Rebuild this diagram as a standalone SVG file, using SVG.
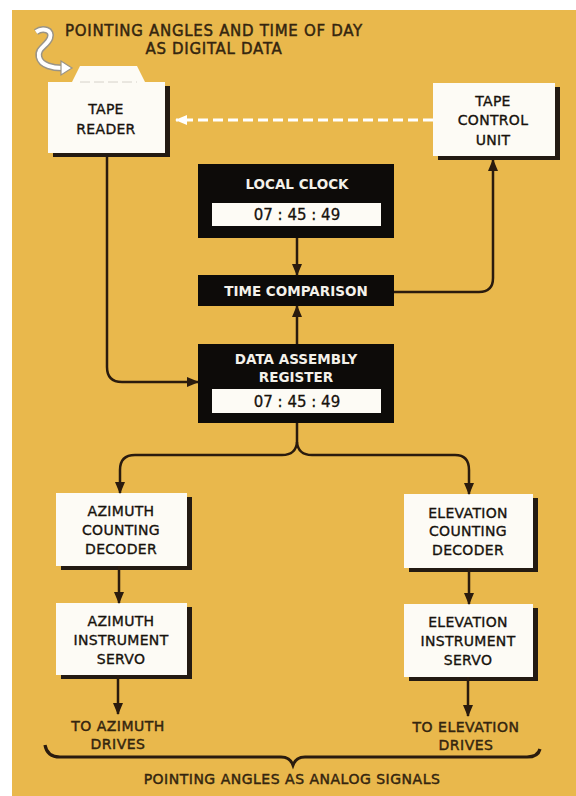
<svg xmlns="http://www.w3.org/2000/svg" width="576" height="796" viewBox="0 0 576 796">
<defs>
<style>
.bg{fill:#E9B84C}
.wbox{fill:#FDFBF5}
.shadow{fill:#231A12}
.bbox{fill:#0D0B09}
.t{font-family:"DejaVu Sans","Liberation Sans",sans-serif;font-size:14px;fill:#17120C;stroke:#17120C;stroke-width:0.35px;text-anchor:middle;letter-spacing:0.3px}
.tw{font-family:"DejaVu Sans","Liberation Sans",sans-serif;font-size:13.5px;font-weight:bold;fill:#F4F1EA;text-anchor:middle}
.num{font-family:"DejaVu Sans","Liberation Sans",sans-serif;font-size:15px;fill:#17120C;stroke:#17120C;stroke-width:0.3px;text-anchor:middle}
.lab{font-family:"DejaVu Sans","Liberation Sans",sans-serif;font-size:14px;fill:#34250F;stroke:#34250F;stroke-width:0.45px;text-anchor:middle;letter-spacing:0.5px}
.ln{fill:none;stroke:#2A1B0E;stroke-width:2.5}
</style>
<marker id="ah" markerUnits="userSpaceOnUse" markerWidth="12" markerHeight="12" viewBox="0 0 12 12" refX="11" refY="6" orient="auto">
<path d="M0,1 L12,6 L0,11 Z" fill="#2A1B0E"/>
</marker>
<marker id="ahw" markerUnits="userSpaceOnUse" markerWidth="12" markerHeight="12" viewBox="0 0 12 12" refX="11" refY="6" orient="auto">
<path d="M0,1 L12,6 L0,11 Z" fill="#FFFFFF"/>
</marker>
</defs>
<rect class="bg" x="12" y="10" width="564" height="786"/>

<g id="title">
<text class="lab" x="214" y="36" style="font-size:15px;letter-spacing:0.7px">POINTING ANGLES AND TIME OF DAY</text>
<text class="lab" x="214" y="54" style="font-size:15px;letter-spacing:0.7px">AS DIGITAL DATA</text>
<path d="M36 32 C43 27 53 30 50 38 C47 46 37 48 39 57 C41 66 54 68 62 68" fill="none" stroke="#9A9486" stroke-width="7"/>
<path d="M36 32 C43 27 53 30 50 38 C47 46 37 48 39 57 C41 66 54 68 62 68" fill="none" stroke="#FFFFFF" stroke-width="4"/>
<path d="M61 61 L72 68 L61 75 Z" fill="#FFFFFF" stroke="#9A9486" stroke-width="1.2"/>
</g>

<g id="tape-reader">
<rect class="shadow" x="53" y="86" width="117" height="71"/>
<path class="wbox" d="M48 82 L72 82 L80 66 L137 66 L145 82 L165 82 L165 153 L48 153 Z"/>
<line x1="80" y1="82" x2="137" y2="82" stroke="#D6D2CA" stroke-width="1" stroke-dasharray="10 4"/>
<text class="t" x="106" y="114">TAPE</text>
<text class="t" x="106" y="134">READER</text>
</g>

<g id="tape-control-unit">
<rect class="shadow" x="438" y="87" width="122" height="73"/>
<rect class="wbox" x="433" y="83" width="122" height="73"/>
<text class="t" x="493" y="106">TAPE</text>
<text class="t" x="493" y="125">CONTROL</text>
<text class="t" x="493" y="145">UNIT</text>
</g>

<g id="local-clock">
<rect class="bbox" x="198" y="164" width="196" height="74"/>
<text class="tw" x="297" y="189">LOCAL CLOCK</text>
<rect class="wbox" x="212" y="203" width="169" height="23"/>
<text class="num" x="297" y="220">07 : 45 : 49</text>
</g>

<g id="time-comparison">
<rect class="bbox" x="198" y="275" width="196" height="31"/>
<text class="tw" x="296" y="296">TIME COMPARISON</text>
</g>

<g id="data-assembly-register">
<rect class="bbox" x="198" y="344" width="196" height="79"/>
<text class="tw" x="296" y="364">DATA ASSEMBLY</text>
<text class="tw" x="296" y="382">REGISTER</text>
<rect class="wbox" x="212" y="389" width="169" height="24"/>
<text class="num" x="297" y="407">07 : 45 : 49</text>
</g>

<g id="azimuth-counting-decoder">
<rect class="shadow" x="61" y="497" width="131" height="73"/>
<rect class="wbox" x="56" y="493" width="131" height="73"/>
<text class="t" x="121" y="516">AZIMUTH</text>
<text class="t" x="121" y="535">COUNTING</text>
<text class="t" x="121" y="554">DECODER</text>
</g>

<g id="azimuth-instrument-servo">
<rect class="shadow" x="61" y="607" width="131" height="72"/>
<rect class="wbox" x="56" y="603" width="131" height="72"/>
<text class="t" x="121" y="626">AZIMUTH</text>
<text class="t" x="121" y="645">INSTRUMENT</text>
<text class="t" x="121" y="664">SERVO</text>
</g>

<g id="elevation-counting-decoder">
<rect class="shadow" x="409" y="498" width="129" height="74"/>
<rect class="wbox" x="404" y="494" width="129" height="74"/>
<text class="t" x="468" y="518">ELEVATION</text>
<text class="t" x="468" y="536">COUNTING</text>
<text class="t" x="468" y="555">DECODER</text>
</g>

<g id="elevation-instrument-servo">
<rect class="shadow" x="409" y="608" width="129" height="73"/>
<rect class="wbox" x="404" y="604" width="129" height="73"/>
<text class="t" x="468" y="627">ELEVATION</text>
<text class="t" x="468" y="646">INSTRUMENT</text>
<text class="t" x="468" y="665">SERVO</text>
</g>

<g id="outputs">
<text class="lab" x="118" y="731">TO AZIMUTH</text>
<text class="lab" x="118" y="749">DRIVES</text>
<text class="lab" x="466" y="732">TO ELEVATION</text>
<text class="lab" x="466" y="750">DRIVES</text>
<text class="lab" x="292" y="784">POINTING ANGLES AS ANALOG SIGNALS</text>
</g>

<g id="connectors">
<path class="ln" d="M107 157 L107 367 Q107 382 122 382 L198 382" marker-end="url(#ah)"/>
<path class="ln" d="M297 238 L297 275" marker-end="url(#ah)"/>
<path class="ln" d="M297 344 L297 306" marker-end="url(#ah)"/>
<path class="ln" d="M394 292 L479 292 Q493 292 493 278 L493 160" marker-end="url(#ah)"/>
<path d="M433 120 L176 120" fill="none" stroke="#FFFFFF" stroke-width="3" stroke-dasharray="10 5" marker-end="url(#ahw)"/>
<path class="ln" d="M297 423 L297 442 Q296 455 282 455 L135 455 Q120 455 120 470 L120 493" marker-end="url(#ah)"/>
<path class="ln" d="M297 442 Q298 455 312 455 L455 455 Q469 455 469 470 L469 494" marker-end="url(#ah)"/>
<path class="ln" d="M119 566 L119 603" marker-end="url(#ah)"/>
<path class="ln" d="M469 568 L469 604" marker-end="url(#ah)"/>
<path class="ln" d="M118 675 L118 714" marker-end="url(#ah)"/>
<path class="ln" d="M468 677 L468 716" marker-end="url(#ah)"/>
<path d="M45 745 Q47 757 60 757 L281 757 Q290 757 293 765 Q296 757 305 757 L527 757 Q538 757 540 749" fill="none" stroke="#2A1B0E" stroke-width="3.2"/>
</g>
</svg>
